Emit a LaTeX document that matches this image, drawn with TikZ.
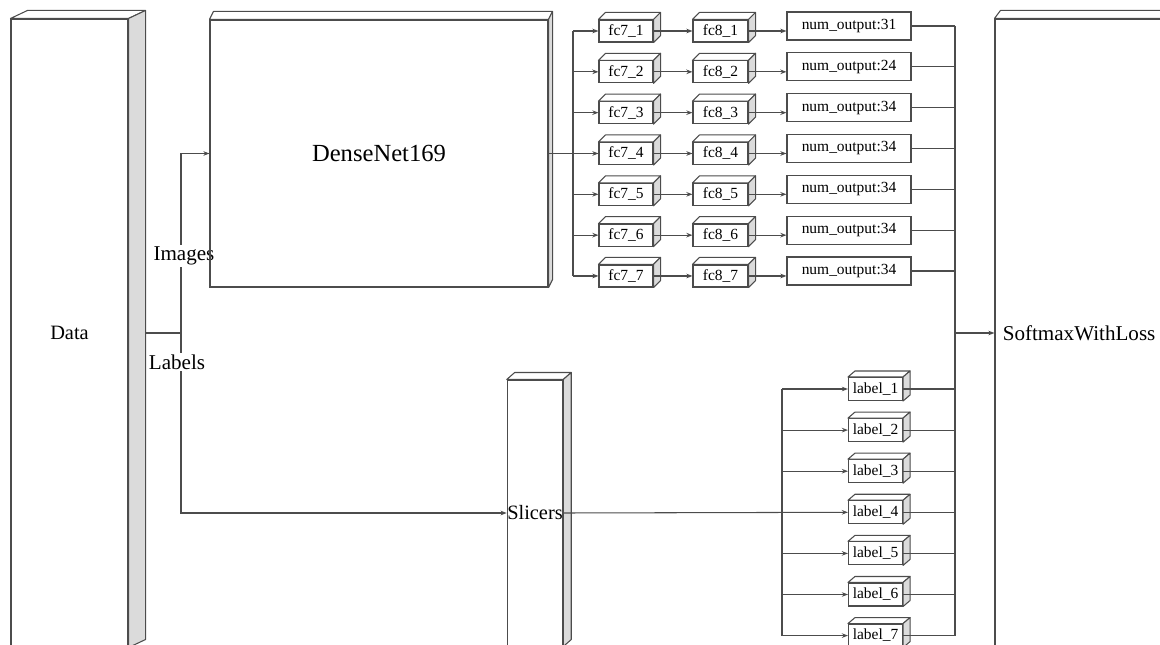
\documentclass[tikz,border=0pt]{standalone}
\usepackage{fontspec}
\setmainfont{Liberation Serif}
\usetikzlibrary{arrows.meta}
\definecolor{linegray}{gray}{0.3}
\definecolor{sidegray}{gray}{0.86}
\newcommand{\pxl}{0.02cm}
% top and side face of a block, #2,#3 = depth offset
\newcommand{\cubefaces}[3]{%
  \draw[face,fill=white] (#1.north west) -- ++(#2,#3) -- ([shift={(#2,#3)}]#1.north east) -- (#1.north east) -- cycle;
  \draw[face,fill=sidegray] (#1.north east) -- ([shift={(#2,#3)}]#1.north east) -- ([shift={(#2,#3)}]#1.south east) -- (#1.south east) -- cycle;}
\pgfdeclarelayer{background}
\pgfsetlayers{background,main}
\tikzset{
  face/.style={draw=linegray,line width=0.6pt,line join=round},
  block/.style={draw=linegray,line width=0.6pt,inner sep=0pt},
  bigtxt/.style={font=\fontsize{11.6}{13}\selectfont},
  smalltxt/.style={font=\fontsize{8.8}{10}\selectfont},
  flow/.style={draw=linegray,line width=0.6pt,-{Stealth[length=3.5pt,width=2.6pt]}},
  link/.style={draw=linegray,line width=0.6pt}
}
\begin{document}
\begin{tikzpicture}[x=0.02cm,y=-0.02cm]
\useasboundingbox (0,0) rectangle (1160,645);
\clip (0,0) rectangle (1160,645);
% branch names
\node[bigtxt,fill=white,inner sep=1pt,font=\fontsize{12}{13}\selectfont] (imgs) at (184,256) {Images};
\node[bigtxt,fill=white,inner sep=1pt,font=\fontsize{12}{13}\selectfont] (labs) at (177,362) {Labels};
% big blocks
\node[block,bigtxt,minimum width=117*\pxl,minimum height=628*\pxl] (data) at (69.5,333) {Data};
\node[block,font=\fontsize{14}{16}\selectfont,minimum width=338*\pxl,minimum height=267*\pxl] (dense) at (379,153.5) {DenseNet169};
\node[block,bigtxt,minimum width=54*\pxl,minimum height=266*\pxl] (slc) at (535,513) {Slicers};
\node[block,minimum width=205*\pxl,minimum height=628*\pxl,
  label={[anchor=west,inner sep=0pt,xshift=8*\pxl,font=\fontsize{12}{13}\selectfont]west:SoftmaxWithLoss}] (smx) at (1097.5,333) {};
\cubefaces{data}{17}{-8}
\cubefaces{dense}{4}{-8}
\cubefaces{slc}{8}{-7}
\cubefaces{smx}{6}{-8}
% heads and labels
\foreach \i in {1,...,7}{
  \node[block,smalltxt,minimum width=54*\pxl,minimum height=22*\pxl] (fcA\i) at (626,{31+40.83*(\i-1)}) {fc7\_\i};
  \node[block,smalltxt,minimum width=55*\pxl,minimum height=22*\pxl] (fcB\i) at (720.5,{31+40.83*(\i-1)}) {fc8\_\i};
  \node[block,smalltxt,minimum width=54*\pxl,minimum height=23*\pxl] (lab\i) at (875.5,{389+41.1*(\i-1)}) {label\_\i};
  \cubefaces{fcA\i}{7}{-7}
  \cubefaces{fcB\i}{7}{-7}
  \cubefaces{lab\i}{7}{-6}
}
\node[block,smalltxt,minimum width=124*\pxl,minimum height=28*\pxl] (num1) at (849,26) {num\_output:31};
\node[block,smalltxt,minimum width=124*\pxl,minimum height=28*\pxl] (num2) at (849,66.8) {num\_output:24};
\foreach \i in {3,...,7}
  \node[block,smalltxt,minimum width=124*\pxl,minimum height=28*\pxl] (num\i) at (849,{26+40.83*(\i-1)}) {num\_output:34};
% buses
\coordinate (jn) at (181,333);
\coordinate (fbus) at (573,153.5);
\coordinate (lbus) at (782,513);
\coordinate (rbus) at (955,333);
\begin{pgfonlayer}{background}
\draw[link] (data.east) -- (jn);
\draw[flow] (jn) |- (dense.west);
\draw[flow] (jn) |- (slc.west);
\end{pgfonlayer}
\draw[link] (dense.east) -- (fbus);
\draw[link] (fcA1.west -| fbus) -- (fcA7.west -| fbus);
\draw[flow] (slc.east) -- (lab4.west);
\draw[link] (lab1.west -| lbus) -- (lab7.west -| lbus);
\draw[link] (num1.east -| rbus) -- (lab7.east -| rbus);
\foreach \i in {1,...,7}{
  \draw[flow] (fcA\i.west -| fbus) -- (fcA\i.west);
  \draw[flow] (fcA\i.east) -- (fcB\i.west);
  \draw[flow] (fcB\i.east) -- (fcB\i.east -| num\i.west);
  \draw[link] (num\i.east) -- (num\i.east -| rbus);
  \draw[link] (lab\i.east) -- (lab\i.east -| rbus);
}
\foreach \i in {1,2,3,5,6,7}
  \draw[flow] (lab\i.west -| lbus) -- (lab\i.west);
\draw[flow] (rbus) -- (smx.west);
\end{tikzpicture}
\end{document}
